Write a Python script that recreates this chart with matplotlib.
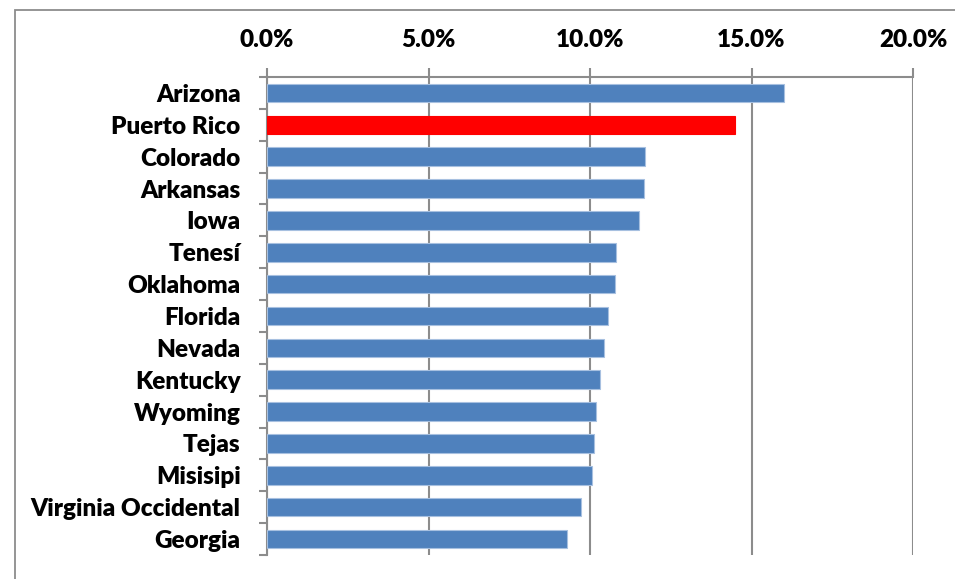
import matplotlib
matplotlib.use("Agg")
import matplotlib.pyplot as plt
from matplotlib.ticker import FixedLocator, PercentFormatter
from matplotlib.patches import Rectangle

states = ["Arizona", "Puerto Rico", "Colorado", "Arkansas", "Iowa", "Tenesí",
          "Oklahoma", "Florida", "Nevada", "Kentucky", "Wyoming", "Tejas",
          "Misisipi", "Virginia Occidental", "Georgia"]
values = [16.0, 14.5, 11.7, 11.67, 11.52, 10.8, 10.78, 10.55, 10.42, 10.3,
          10.2, 10.11, 10.07, 9.71, 9.29]
highlight = "Puerto Rico"
xticks = [0, 5, 10, 15, 20]

plt.rcParams['font.family'] = ['Lato', 'DejaVu Sans']

fig = plt.figure(figsize=(9.55, 5.79), dpi=100)
ax = fig.add_axes([267/955, 1-555/579, (913-267)/955, (555-77)/579])

colors = ['#FF0000' if s == highlight else '#4F81BD' for s in states]
edges = ['#FF0000' if s == highlight else '#A7C0E0' for s in states]
ypos = list(range(len(states)))
ax.barh(ypos, values, height=0.58, color=colors, edgecolor=edges, linewidth=0.8, zorder=3)

ax.set_xlim(0, 20)
ax.set_ylim(len(states) - 0.5, -0.5)
ax.xaxis.set_major_locator(FixedLocator(xticks))
ax.xaxis.set_major_formatter(PercentFormatter(decimals=1))
ax.xaxis.tick_top()
ax.tick_params(axis='x', which='major', top=True, bottom=False, length=6.5, width=1.5,
               color='#8C8C8C', pad=12, labelsize=17.5)
for lbl in ax.get_xticklabels():
    lbl.set_fontweight('heavy')

ax.set_yticks(ypos)
ax.set_yticklabels(states, fontweight='heavy', fontsize=17.5)
ax.set_yticks([i - 0.5 for i in range(len(states) + 1)], minor=True)
ax.tick_params(axis='y', which='major', length=0, pad=19)
ax.tick_params(axis='y', which='minor', length=6, width=1.5, color='#8C8C8C')

ax.grid(axis='x', color='#8C8C8C', linewidth=1.5, zorder=0)
ax.set_axisbelow(True)
for side in ['right', 'bottom']:
    ax.spines[side].set_visible(False)
for side in ['top', 'left']:
    ax.spines[side].set_color('#8C8C8C')
    ax.spines[side].set_linewidth(1.5)

fig.patches.append(Rectangle((15/955, -0.1), 1.2, 1 - 10/579 + 0.1, transform=fig.transFigure,
                             fill=False, edgecolor='#8C8C8C', linewidth=1.3))

fig.savefig("out.png", dpi=100)
